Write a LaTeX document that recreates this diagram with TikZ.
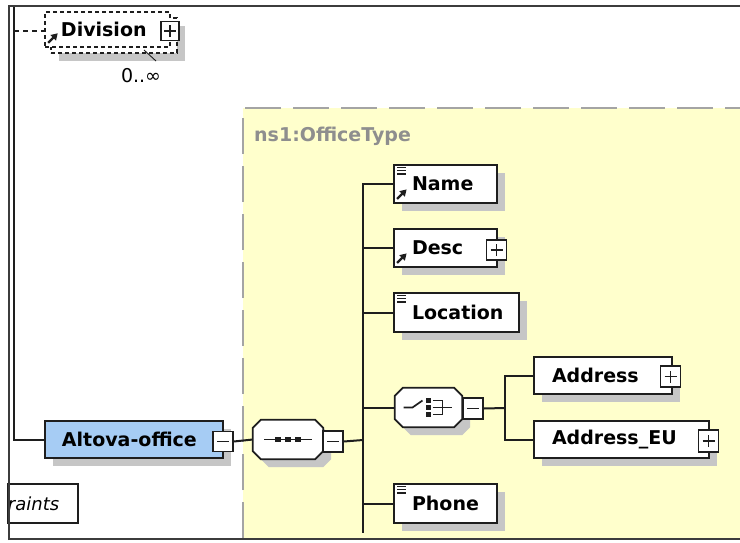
\documentclass[tikz,border=0pt]{standalone}
\usepackage{fontspec}
\setmainfont{DejaVu Sans}[BoldFont={DejaVu Sans Bold},ItalicFont={DejaVu Sans Oblique}]
\usetikzlibrary{shadows,arrows.meta}
\definecolor{yel}{HTML}{FFFFCC}
\definecolor{blu}{HTML}{A6CCF4}
\definecolor{shd}{HTML}{C6C6C6}
\definecolor{lin}{HTML}{1E1E1E}
\definecolor{dsh}{HTML}{A4A4A4}
\definecolor{lbl}{HTML}{8E8E8E}
\definecolor{frm}{HTML}{3C3C3C}
\newcommand\bigfont{\fontsize{19}{21}\selectfont}
\newcommand\octpath[3]{([shift={(#2+8,#3)}]#1.north west) -- ([shift={(#2-8,#3)}]#1.north east) -- ([shift={(#2,#3+8)}]#1.north east) -- ([shift={(#2,#3-8)}]#1.south east) -- ([shift={(#2-8,#3)}]#1.south east) -- ([shift={(#2+8,#3)}]#1.south west) -- ([shift={(#2,#3-8)}]#1.south west) -- ([shift={(#2,#3+8)}]#1.north west) -- cycle}
\newcommand\simpleicon[1]{\begin{scope}[shift={(#1.north west)}]\draw[lin, line width=1.1pt] (4,3.5)--(13,3.5) (4,6.7)--(13,6.7) (4,9.9)--(13,9.9);\end{scope}}
\newcommand\refarrow[1]{\begin{scope}[shift={(#1.south west)}]\draw[lin, line width=2.2pt, -{Triangle[length=6.5pt,width=7.5pt]}] (4,-5) -- (13.5,-14.5);\end{scope}}
\begin{document}
\begin{tikzpicture}[x=1pt,y=-1pt,
  elem/.style={draw=lin, line width=1.8pt, fill=white, inner xsep=0pt, inner ysep=0pt, align=left, font=\bfseries\bigfont, general shadow={fill=shd, shadow xshift=8pt, shadow yshift=-8pt}},
  pm/.style={draw=lin, line width=1.5pt, fill=white, minimum width=20pt, minimum height=20pt, inner sep=0pt},
  plusbox/.style={pm, path picture={\draw[lin, line width=1.5pt] ([xshift=-6pt]path picture bounding box.center) -- ([xshift=6pt]path picture bounding box.center) ([yshift=-6pt]path picture bounding box.center) -- ([yshift=6pt]path picture bounding box.center);}},
  minusbox/.style={pm, path picture={\draw[lin, line width=1.5pt] ([xshift=-6pt]path picture bounding box.center) -- ([xshift=6pt]path picture bounding box.center);}},
  conn/.style={draw=lin, line width=2pt},
  octnode/.style={minimum width=#1, minimum height=39pt, inner sep=0pt},
  divbox/.style={draw=lin, line width=1.5pt, dash pattern=on 4pt off 3pt, fill=white, inner xsep=0pt, inner ysep=0pt, align=left, font=\bfseries\bigfont}]
\useasboundingbox (0,0) rectangle (740,542);
\fill[white] (0,0) rectangle (740,542);
% type area
\fill[yel] (243,108) rectangle (740,538);
\draw[dsh, line width=2.2pt, dash pattern=on 36pt off 12pt] (243,538) -- (243,108) -- (740,108);
\node[anchor=west, font=\bfseries\bigfont, text=lbl, inner sep=0pt] (otl) at (254,136) {ns1:OfficeType};

% Division (optional, multiple)
\fill[shd] (59,26) rectangle (185,61);
\node[divbox, minimum width=126pt, minimum height=35pt] (divb) at (114,35.5) {};
\node[divbox, text width=125pt, minimum height=35pt] (div) at (107.5,29.5) {\hspace*{16pt}Division};
\refarrow{div}
\node[plusbox, minimum width=18pt, minimum height=19pt] (divp) at (170,31) {};
\draw[lin, line width=0.9pt] (144,50) -- (156,61);
\node[font=\bigfont, inner sep=0pt] (card) at (141,76) {0..∞};

% Altova-office
\node[elem, fill=blu, text width=178pt, minimum height=37pt] (alt) at (134,439.5) {\hspace*{17pt}Altova-office};
\node[minusbox] (altm) at (223,441.5) {};

% constraints box
\node[draw=lin, line width=1.8pt, fill=white, text width=70pt, align=left, inner xsep=0pt, minimum height=39pt, font=\itshape\fontsize{18}{20}\selectfont] (idc) at (43,503.5) {raints};

% sequence
\node[octnode=70pt] (seq) at (288,439.5) {};
\fill[shd] \octpath{seq}{8}{8};
\draw[lin, line width=1.8pt, fill=white] \octpath{seq}{0}{0};
\begin{scope}[shift={(seq.center)}]
  \draw[lin, line width=1.7pt] (-24,0) -- (24,0);
  \foreach \dx in {-10,0,10} \fill[lin] (\dx-2.8,-2.8) rectangle (\dx+2.8,2.8);
\end{scope}
\node[minusbox, minimum height=21pt] (seqm) at (333,441.5) {};

% children
\node[elem, text width=103pt, minimum height=38pt] (name) at (445.5,184) {\hspace*{18pt}Name};
\simpleicon{name}\refarrow{name}
\node[elem, text width=103pt, minimum height=38pt] (desc) at (445.5,248) {\hspace*{18pt}Desc};
\refarrow{desc}
\node[plusbox] (descp) at (496.5,250) {};
\node[elem, text width=125pt, minimum height=39pt] (loc) at (456.5,312.5) {\hspace*{18pt}Location};
\simpleicon{loc}
\node[elem, text width=103pt, minimum height=39pt] (phone) at (445.5,503.5) {\hspace*{18pt}Phone};
\simpleicon{phone}

% choice
\node[octnode=67pt] (chc) at (428.5,407.5) {};
\fill[shd] \octpath{chc}{8}{8};
\draw[lin, line width=1.8pt, fill=white] \octpath{chc}{0}{0};
\begin{scope}[shift={(chc.center)}]
  \draw[lin, line width=1.7pt] (-25,0) -- (-16,0) -- (-6,-7);
  \foreach \dy in {-7,0,7} \fill[lin] (-2.8,\dy-2.6) rectangle (2.8,\dy+2.6);
  \draw[lin, line width=1.7pt] (4,-7) -- (14,-7) -- (14,7) -- (4,7) (4,0) -- (23,0);
\end{scope}
\node[minusbox, minimum height=21pt] (chcm) at (473,408.5) {};

\node[elem, text width=138pt, minimum height=37pt] (adr) at (603,375.5) {\hspace*{18pt}Address};
\node[plusbox, minimum height=21pt] (adrp) at (670.5,376.5) {};
\node[elem, text width=175pt, minimum height=37pt] (adreu) at (621.5,439.5) {\hspace*{18pt}Address\_EU};
\node[plusbox, minimum height=22pt] (adreup) at (708.5,441) {};

% connectors
\coordinate (top) at (14,7);
\coordinate (dj) at (14,31);
\coordinate (tr) at (363,440);
\coordinate (trbot) at (363,533);
\coordinate (cj) at (505,408);
\draw[conn] (top) |- (alt.west);
\draw[lin, line width=1.5pt, dash pattern=on 5pt off 4pt] (dj) -- (dj -| div.west);
\draw[conn] (altm.east) -- (seq.west);
\draw[conn] (seqm.east) -- (tr);
\draw[conn] (name.west) -| (trbot);
\draw[conn] (desc.west) -- (desc.west -| tr);
\draw[conn] (loc.west) -- (loc.west -| tr);
\draw[conn] (chc.west) -- (chc.west -| tr);
\draw[conn] (phone.west) -- (phone.west -| tr);
\draw[conn] (chcm.east) -- (cj);
\draw[conn] (adr.west) -| (cj) |- (adreu.west);

% frame
\draw[frm, line width=2.2pt] (9,540) -- (9,6) -- (740,6);
\draw[frm, line width=1.8pt] (9,539) -- (740,539);
\end{tikzpicture}
\end{document}
